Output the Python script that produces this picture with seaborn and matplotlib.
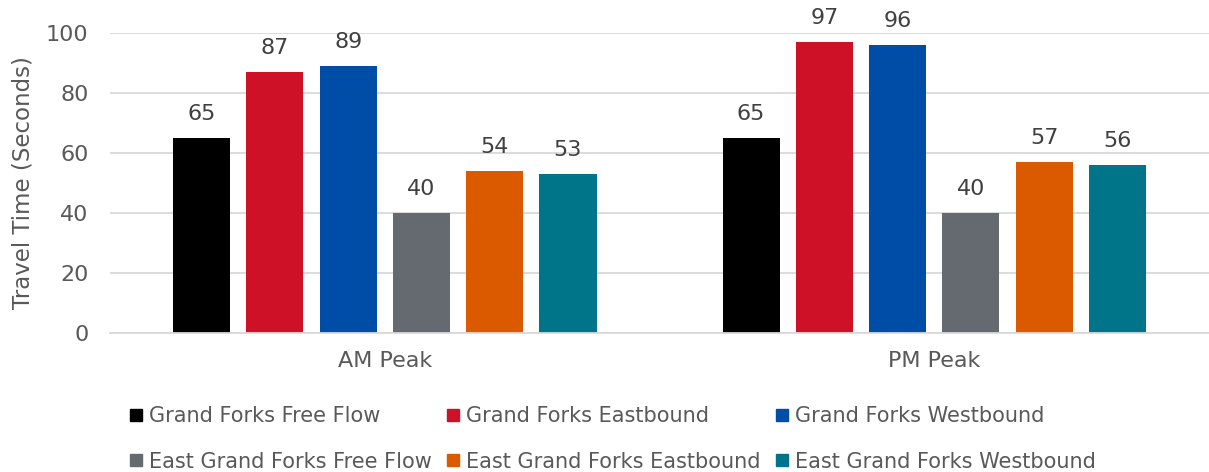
import matplotlib
matplotlib.use("Agg")
import matplotlib.pyplot as plt
from matplotlib.lines import Line2D
import seaborn as sns
import pandas as pd

periods = ["AM Peak", "PM Peak"]
series = [
    "Grand Forks Free Flow",
    "Grand Forks Eastbound",
    "Grand Forks Westbound",
    "East Grand Forks Free Flow",
    "East Grand Forks Eastbound",
    "East Grand Forks Westbound",
]
am_values = [65, 87, 89, 40, 54, 53]
pm_values = [65, 97, 96, 40, 57, 56]
colors = ["#000000", "#CE1126", "#004DA8", "#646A70", "#DB5A00", "#00758A"]

rows = []
for name, am, pm in zip(series, am_values, pm_values):
    rows.append({"Period": periods[0], "Series": name, "Seconds": am})
    rows.append({"Period": periods[1], "Series": name, "Seconds": pm})
df = pd.DataFrame(rows)

sns.set_theme(style="white")
plt.rcParams["font.family"] = ["DejaVu Sans"]
text_gray = "#595959"

fig = plt.figure(figsize=(12.09, 4.72), dpi=100)
ax = fig.add_axes([0.091, 0.2945, 0.909, 0.6355])

sns.barplot(
    data=df, x="Period", y="Seconds", hue="Series",
    order=periods, hue_order=series, palette=colors,
    width=0.8, gap=0.22, saturation=1, ax=ax, legend=False,
    linewidth=0,
)

for container in ax.containers:
    ax.bar_label(container, fmt="%d", padding=10, fontsize=16, color="#404040")

ax.set_xlim(-0.5, 1.5)
ax.set_ylim(0, 100)
ax.set_yticks(range(0, 101, 20))
ax.yaxis.grid(True, color="#D9D9D9", linewidth=1.3)
ax.set_axisbelow(True)
for side in ["top", "right", "left"]:
    ax.spines[side].set_visible(False)
ax.spines["bottom"].set_color("#D9D9D9")
ax.spines["bottom"].set_linewidth(1.3)
ax.tick_params(axis="y", length=0, labelsize=16, colors=text_gray, pad=15.5)
ax.tick_params(axis="x", length=0, labelsize=16, colors=text_gray, pad=13)
ax.set_xlabel("")
ax.set_ylabel("Travel Time (Seconds)", fontsize=16.5, color=text_gray, labelpad=8)

# legend entries laid out row by row: matplotlib fills columns first
order = [0, 3, 1, 4, 2, 5]
handles = [Line2D([], [], marker="s", linestyle="", markersize=9,
                  markerfacecolor=colors[i], markeredgecolor=colors[i]) for i in order]
labels = [series[i] for i in order]
fig.legend(handles, labels, loc="upper left", bbox_to_anchor=(0.1075, 0.140),
           ncol=3, frameon=False, fontsize=15, labelcolor=text_gray,
           handletextpad=0.3, columnspacing=0.745, handlelength=0.6,
           labelspacing=1.24, borderaxespad=0, borderpad=0)

fig.savefig("out.png", dpi=100)
